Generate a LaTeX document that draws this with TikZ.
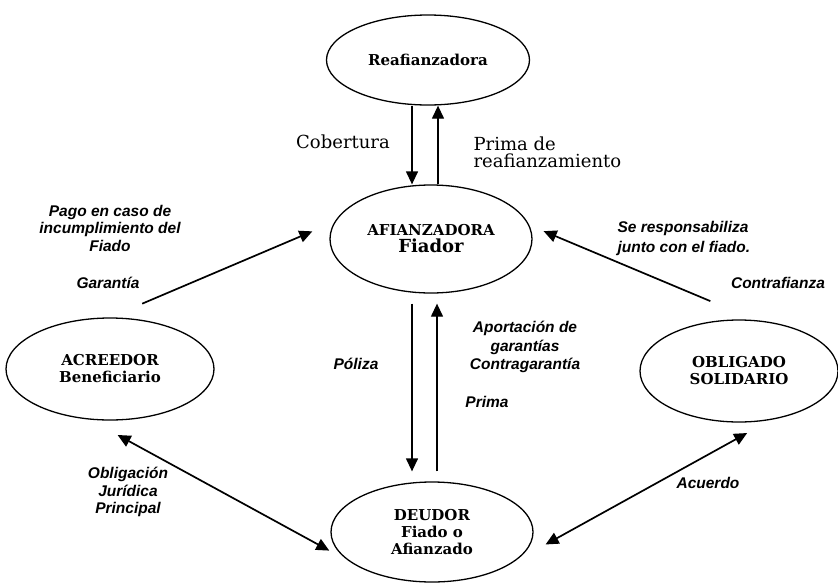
\documentclass[tikz,border=0pt]{standalone}
\usepackage{fontspec}
\setmainfont{DejaVu Serif}
\newfontfamily\tagfont{Liberation Sans}
\usepackage{tikz}
\usetikzlibrary{arrows.meta}
\usetikzlibrary{shapes.geometric}

\begin{document}
\begin{tikzpicture}[x=1pt, y=-1pt,
    party/.style={draw, ellipse, line width=1.3pt, inner sep=0pt, align=center,
        font=\bfseries\fontsize{15}{17}\selectfont},
    flow/.style={line width=1.3pt, -{Triangle[length=13pt, width=12pt]}},
    both/.style={line width=1.7pt, {Triangle[length=13pt, width=12pt]}-{Triangle[length=13pt, width=12pt]}},
    tag/.style={font=\tagfont\bfseries\itshape\fontsize{15.5}{17.5}\selectfont, align=center},
    plain/.style={font=\fontsize{18}{17}\selectfont, align=left}]
    \useasboundingbox (0,0) rectangle (838,584); % page size

    \node[party, minimum width=203pt, minimum height=90pt] (rea) at (428,60) {Reafianzadora};
    \node[party, minimum width=202pt, minimum height=108pt] (afi) at (431,239)
        {AFIANZADORA\\{\fontsize{18}{19}\selectfont Fiador}};
    \node[party, minimum width=208pt, minimum height=102pt] (acr) at (110,369) {ACREEDOR\\Beneficiario};
    \node[party, minimum width=198pt, minimum height=102pt] (obl) at (739,371) {OBLIGADO\\SOLIDARIO};
    \node[party, minimum width=202pt, minimum height=100pt] (deu) at (432,532) {DEUDOR\\Fiado o\\Afianzado};

    % reafianzadora <-> afianzadora
    \draw[flow] ([xshift=-16pt]rea.south) -- ([xshift=-16pt]rea.south |- afi.north);
    \draw[flow] ([xshift=7pt]afi.north) -- ([xshift=7pt]afi.north |- rea.south);
    % afianzadora <-> deudor
    \draw[flow, shorten <=10pt, shorten >=10pt] ([xshift=-19pt]afi.south) -- ([xshift=-19pt]afi.south |- deu.north);
    \draw[flow, shorten <=10pt, shorten >=10pt] ([xshift=6pt]afi.south |- deu.north) -- ([xshift=6pt]afi.south);
    % side links
    \draw[flow, line width=1.7pt, shorten <=35pt, shorten >=24pt] (acr.north) -- (afi.170);
    \draw[flow, line width=1.7pt, shorten <=49pt, shorten >=15.5pt] (obl.72) -- (afi.8);
    \draw[both, shorten <=32pt, shorten >=23.5pt] (acr.248) -- (deu.200);
    \draw[both, shorten <=27pt, shorten >=36pt] (obl.303) -- (deu.340);

    \node[plain] (cob) at (343,142) {Cobertura};
    \node[plain, anchor=west] (reprima) at (470,152) {Prima de\\reafianzamiento};
    \node[tag] (pago) at (110,228) {Pago en caso de\\incumplimiento del\\Fiado};
    \node[tag] (garan) at (108,283) {Garantía};
    \node[tag, align=left, anchor=west, font=\tagfont\bfseries\itshape\fontsize{15.5}{20}\selectfont] (respon) at (614,238)
        {Se responsabiliza\\junto con el fiado.};
    \node[tag] (contra) at (778,283) {Contrafianza};
    \node[tag, font=\tagfont\bfseries\itshape\fontsize{15.5}{18.5}\selectfont] (aport) at (525,347)
        {Aportación de\\garantías\\Contragarantía};
    \node[tag] (poliza) at (356,364) {Póliza};
    \node[tag] (prima) at (487,402) {Prima};
    \node[tag] (oblig) at (128,492) {Obligación\\Jurídica\\Principal};
    \node[tag] (acuerdo) at (708,483) {Acuerdo};
\end{tikzpicture}
\end{document}
